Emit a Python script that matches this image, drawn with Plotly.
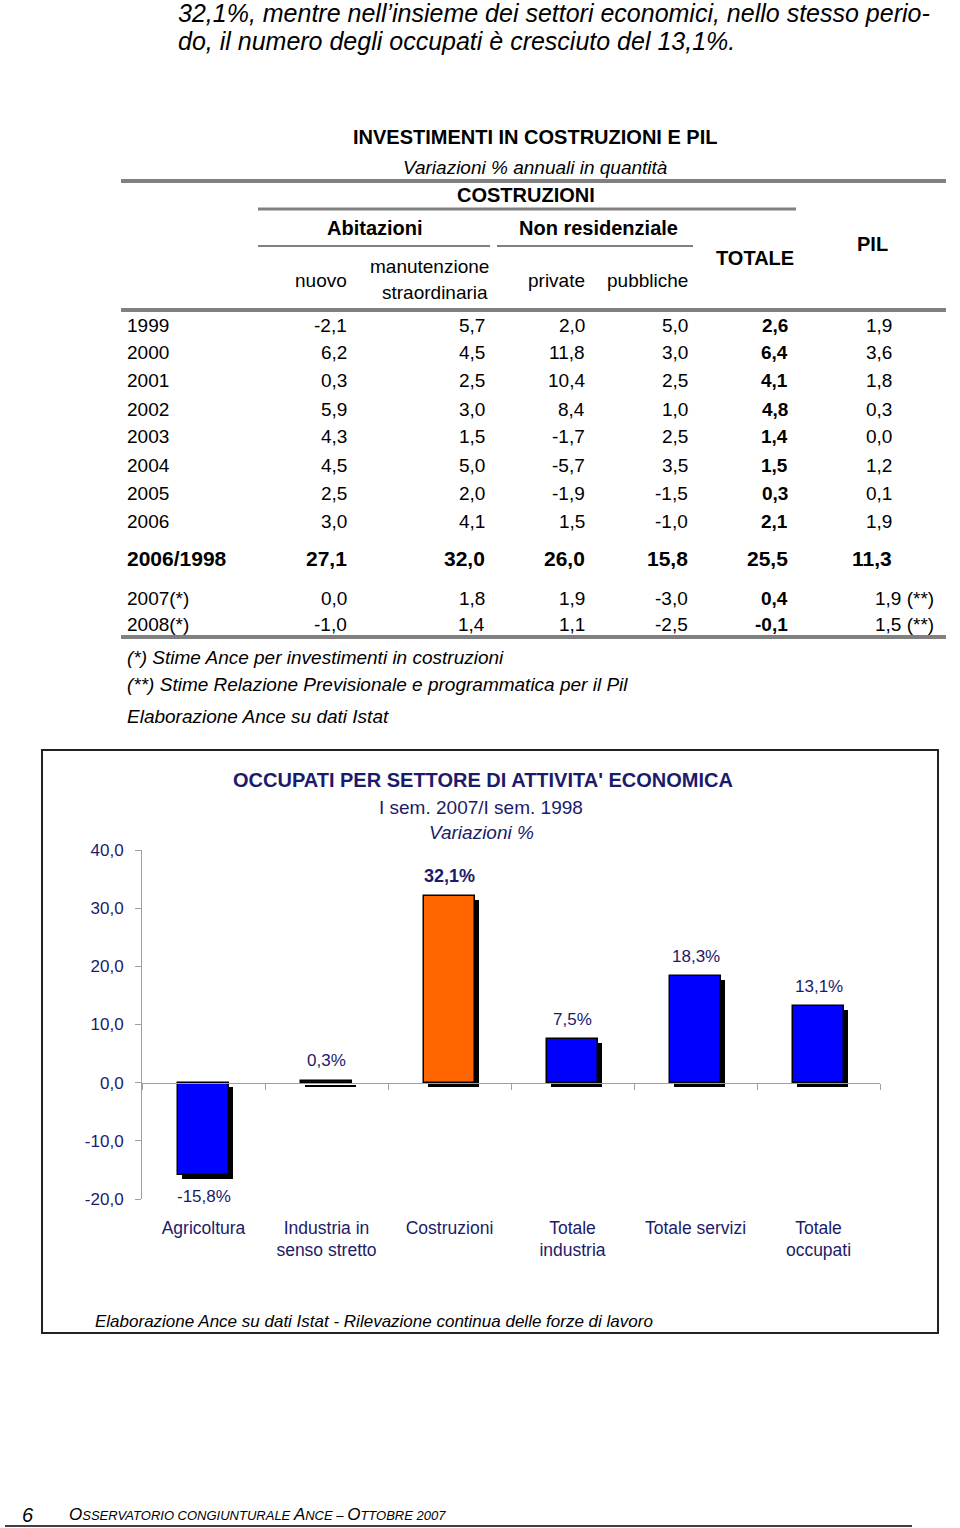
import plotly.graph_objects as go

# page geometry (reference pixels)
W, H = 960, 1528
def px(x): return x / W
def py(y): return 1 - y / H

# ---------------- table data ----------------
years = ["1999", "2000", "2001", "2002", "2003", "2004", "2005", "2006"]
nuovo = [-2.1, 6.2, 0.3, 5.9, 4.3, 4.5, 2.5, 3.0]
manutenzione = [5.7, 4.5, 2.5, 3.0, 1.5, 5.0, 2.0, 4.1]
private = [2.0, 11.8, 10.4, 8.4, -1.7, -5.7, -1.9, 1.5]
pubbliche = [5.0, 3.0, 2.5, 1.0, 2.5, 3.5, -1.5, -1.0]
totale = [2.6, 6.4, 4.1, 4.8, 1.4, 1.5, 0.3, 2.1]
pil = [1.9, 3.6, 1.8, 0.3, 0.0, 1.2, 0.1, 1.9]
cum_label = "2006/1998"
cum_row = [27.1, 32.0, 26.0, 15.8, 25.5, 11.3]
est_labels = ["2007(*)", "2008(*)"]
est_rows = [[0.0, 1.8, 1.9, -3.0, 0.4, 1.9],
            [-1.0, 1.4, 1.1, -2.5, -0.1, 1.5]]

# ---------------- chart data ----------------
sectors = ["Agricoltura", "Industria in<br>senso stretto", "Costruzioni",
           "Totale<br>industria", "Totale servizi", "Totale<br>occupati"]
variations = [-15.8, 0.3, 32.1, 7.5, 18.3, 13.1]
bar_colors = ["#0000FF", "#0000FF", "#FF6600", "#0000FF", "#0000FF", "#0000FF"]
y_ticks = [-20, -10, 0, 10, 20, 30, 40]

FONT = "Liberation Sans, Arial, sans-serif"
NAVY = "#1b1b6a"

def fmt(v):
    return f"{v:.1f}".replace(".", ",")

ann = []
shapes = []

def text(x, y, t, size=19, anchor="left", color="black", bold=False, italic=False,
         vanchor="middle", yshift=0):
    if bold:
        t = f"<b>{t}</b>"
    if italic:
        t = f"<i>{t}</i>"
    ann.append(dict(x=px(x), y=py(y), xref="paper", yref="paper", text=t,
                    showarrow=False, xanchor=anchor, yanchor=vanchor, yshift=yshift,
                    font=dict(family=FONT, size=size, color=color)))

def hline(x0, x1, y, w=4, color="#808080"):
    shapes.append(dict(type="line", xref="paper", yref="paper",
                       x0=px(x0), x1=px(x1), y0=py(y), y1=py(y),
                       line=dict(color=color, width=w)))

# top body text
text(176, 0, "32,1%, mentre nell’insieme dei settori economici, nello stesso perio-", size=25,
     italic=True, vanchor="top", yshift=3)
text(176, 41, "do, il numero degli occupati è cresciuto del 13,1%.", size=25, italic=True)

# table header
text(535, 137, "INVESTIMENTI IN COSTRUZIONI E PIL", size=20, anchor="center", bold=True)
text(535, 167, "Variazioni % annuali in quantità", size=19, anchor="center", italic=True)
hline(121, 946, 181, 4)
text(526, 195, "COSTRUZIONI", size=20, anchor="center", bold=True)
hline(258, 796, 209, 3)
text(375, 228, "Abitazioni", size=20, anchor="center", bold=True)
text(598, 228, "Non residenziale", size=20, anchor="center", bold=True)
hline(258, 490, 246, 2)
hline(497, 693, 246, 2)
text(755, 258, "TOTALE", size=20, anchor="center", bold=True)
text(872, 244, "PIL", size=20, anchor="center", bold=True)
text(349, 280, "nuovo", size=19, anchor="right")
text(429, 267, "manutenzione", size=19, anchor="center")
text(435, 292, "straordinaria", size=19, anchor="center")
text(587, 280, "private", size=19, anchor="right")
text(690, 280, "pubbliche", size=19, anchor="right")
hline(121, 946, 310, 4)

col_right = [349, 487, 587, 690, 790, 894]
for i, yr in enumerate(years):
    yy = 325 + 28 * i
    text(125, yy, yr, size=19)
    vals = [nuovo[i], manutenzione[i], private[i], pubbliche[i], totale[i], pil[i]]
    for j, v in enumerate(vals):
        text(col_right[j], yy, fmt(v), size=19, anchor="right", bold=(j == 4))

text(125, 558, cum_label, size=21, bold=True)
for j, v in enumerate(cum_row):
    text(col_right[j], 558, fmt(v), size=21, anchor="right", bold=True)

for k, (lab, row) in enumerate(zip(est_labels, est_rows)):
    yy = 598 + 26 * k
    text(125, yy, lab, size=19)
    for j, v in enumerate(row):
        if j == 5:
            text(936, yy, fmt(v) + " (**)", size=19, anchor="right")
        else:
            text(col_right[j], yy, fmt(v), size=19, anchor="right", bold=(j == 4))
hline(121, 946, 637, 4)

text(125, 658, "(*) Stime Ance per investimenti in costruzioni", size=19, italic=True)
text(125, 684, "(**) Stime Relazione Previsionale e programmatica per il Pil", size=19, italic=True)
text(125, 716, "Elaborazione Ance su dati Istat", size=19, italic=True)

# chart frame
shapes.append(dict(type="rect", xref="paper", yref="paper",
                   x0=px(42), x1=px(938), y0=py(750), y1=py(1333),
                   line=dict(color="#222222", width=2)))
text(483, 780, "OCCUPATI PER SETTORE DI ATTIVITA' ECONOMICA", size=20, anchor="center", bold=True, color=NAVY)
text(481, 807, "I sem. 2007/I sem. 1998", size=19, anchor="center", color=NAVY)
text(481, 832, "Variazioni %", size=19, anchor="center", italic=True, color=NAVY)
text(93, 1321, "Elaborazione Ance su dati Istat - Rilevazione continua delle forze di lavoro", size=17, italic=True)

# page footer
text(20, 1515, "6", size=20, italic=True)
ann.append(dict(x=px(67), y=py(1514), xref="paper", yref="paper", showarrow=False,
                xanchor="left", yanchor="middle",
                text="<i><span style='font-size:17px'>O</span>SSERVATORIO CONGIUNTURALE "
                     "<span style='font-size:17px'>A</span>NCE – <span style='font-size:17px'>O</span>TTOBRE 2007</i>",
                font=dict(family=FONT, size=13, color="black")))
hline(5, 912, 1526, 1.5, "black")

# chart geometry
xd = [px(142), px(880)]
yd = [py(1199), py(850)]
sx, sy = 4 / W, 4 / H
yr = [-20, 40]
zero_pos = yd[0] + (0 - yr[0]) / (yr[1] - yr[0]) * (yd[1] - yd[0])

fig = go.Figure()
# shadow bars (first subplot, drawn underneath)
fig.add_trace(go.Bar(x=sectors, y=variations, xaxis="x", yaxis="y", width=0.42,
                     marker=dict(color="black", line=dict(width=0)),
                     hoverinfo="skip", showlegend=False))
# helper invisible trace for zero-line axis
fig.add_trace(go.Scatter(x=[0], y=[0], xaxis="x3", yaxis="y2", mode="markers",
                         marker=dict(opacity=0), hoverinfo="skip", showlegend=False))
# main bars
fig.add_trace(go.Bar(x=sectors, y=variations, xaxis="x2", yaxis="y2", width=0.42,
                     marker=dict(color=bar_colors, line=dict(color="black", width=1.5)),
                     showlegend=False))

for s, v in zip(sectors, variations):
    big = v == max(variations)
    ann.append(dict(x=s, y=v, xref="x2", yref="y2", showarrow=False,
                    text=(f"<b>{fmt(v)}%</b>" if big else f"{fmt(v)}%"),
                    yanchor="middle", yshift=(20 if v >= 0 else -22),
                    font=dict(family=FONT, size=18 if big else 17, color=NAVY)))

fig.update_layout(
    template="none",
    width=W, height=H, margin=dict(l=0, r=0, t=0, b=0, pad=0, autoexpand=False),
    paper_bgcolor="white", plot_bgcolor="rgba(0,0,0,0)",
    separators=",.",
    bargap=0,
    xaxis=dict(domain=[xd[0] + sx, xd[1] + sx], type="category", range=[-0.5, 5.5],
               visible=False, anchor="y", automargin=False),
    yaxis=dict(domain=[yd[0] - sy, yd[1] - sy], range=yr, visible=False, anchor="x",
               automargin=False),
    xaxis2=dict(domain=xd, type="category", range=[-0.5, 5.5], showline=False,
                ticks="", showgrid=False, zeroline=False, ticklabelstandoff=16, anchor="y2",
                automargin=False,
                tickfont=dict(family=FONT, size=17.5, color=NAVY)),
    yaxis2=dict(domain=yd, range=yr, tickvals=y_ticks, ticktext=[fmt(t) for t in y_ticks],
                showgrid=False, zeroline=False, showline=True, linecolor="#a0a0a0",
                linewidth=1, ticks="outside", ticklen=6, tickcolor="#a0a0a0",
                ticklabelstandoff=8, anchor="x2", automargin=False,
                tickfont=dict(family=FONT, size=17, color=NAVY)),
    xaxis3=dict(domain=xd, range=[-0.5, 5.5], overlaying="x2", anchor="free",
                position=zero_pos, tickvals=[-0.5, 0.5, 1.5, 2.5, 3.5, 4.5, 5.5],
                showticklabels=False, ticks="outside", ticklen=6, tickcolor="#a0a0a0",
                showline=True, linecolor="#a0a0a0", linewidth=1, showgrid=False,
                zeroline=False, automargin=False),
    annotations=ann, shapes=shapes,
)

fig.write_html("out.html", config={"displayModeBar": False},
               post_script="document.body.style.margin='0';document.body.style.overflow='hidden';")
